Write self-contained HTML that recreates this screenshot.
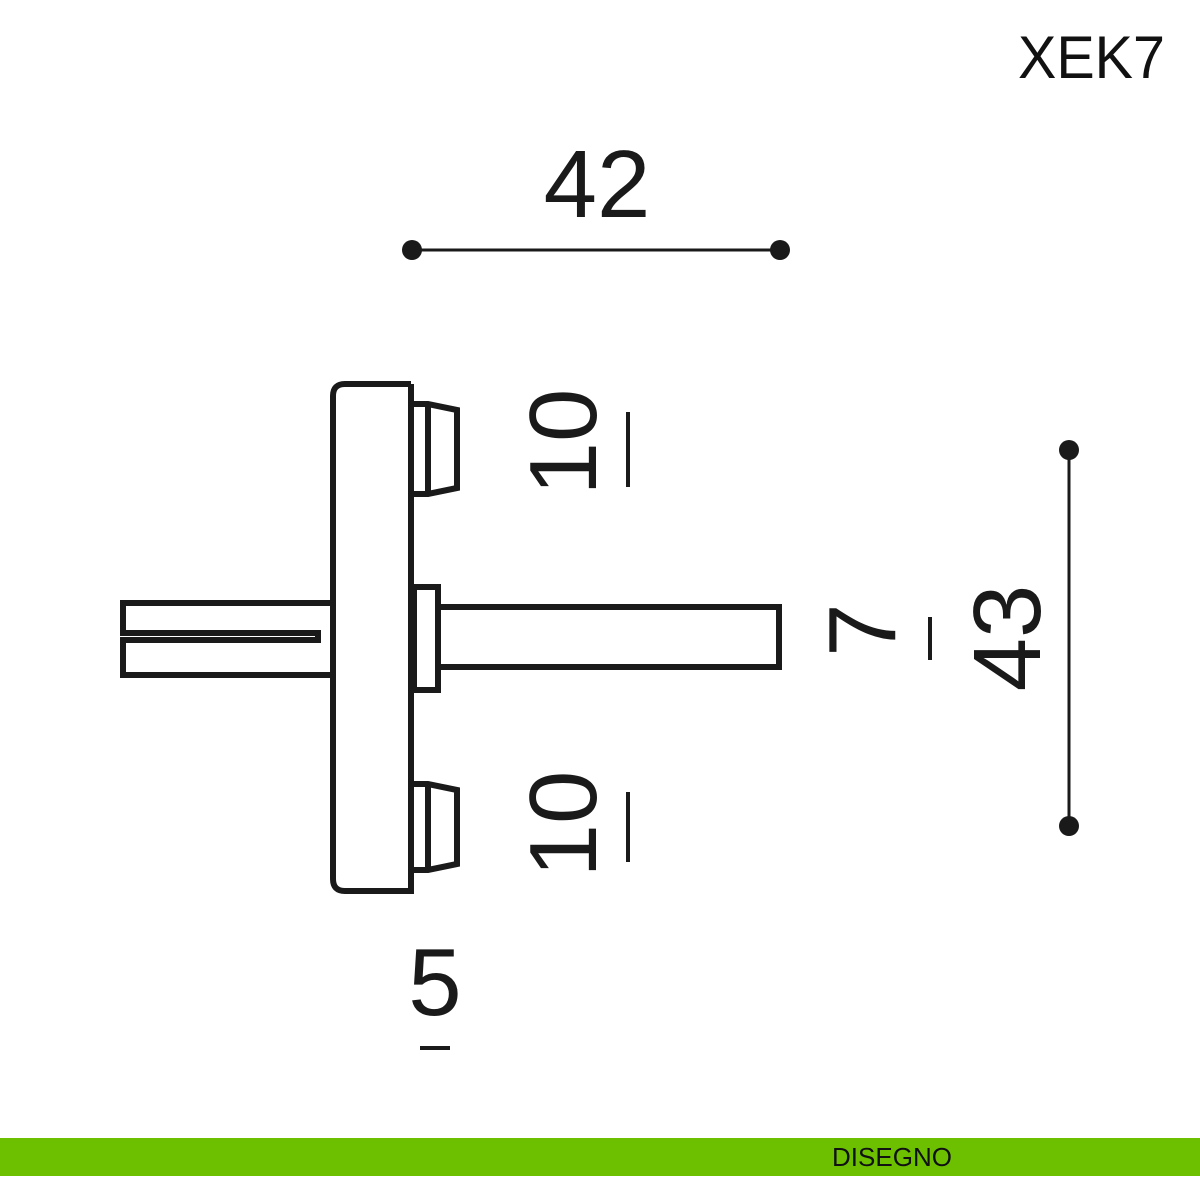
<!DOCTYPE html>
<html><head><style>html,body{margin:0;padding:0;background:#fff}svg{display:block}</style></head>
<body>
<svg width="1200" height="1200" viewBox="0 0 1200 1200" xmlns="http://www.w3.org/2000/svg" font-family="Liberation Sans, sans-serif">
<rect width="1200" height="1200" fill="#fff"/>
<text x="1165" y="78" font-size="60" text-anchor="end" fill="#111" textLength="147" lengthAdjust="spacingAndGlyphs">XEK7</text>
<text x="597" y="217" font-size="96" text-anchor="middle" fill="#1a1a1a">42</text>
<line x1="412" y1="250" x2="780" y2="250" stroke="#1a1a1a" stroke-width="3"/>
<circle cx="412" cy="250" r="10" fill="#1a1a1a"/><circle cx="780" cy="250" r="10" fill="#1a1a1a"/>
<line x1="1069" y1="450" x2="1069" y2="826" stroke="#1a1a1a" stroke-width="3"/>
<circle cx="1069" cy="450" r="10" fill="#1a1a1a"/><circle cx="1069" cy="826" r="10" fill="#1a1a1a"/>
<g fill="none" stroke="#1a1a1a" stroke-width="6">
<path d="M411 384 H345 Q333 384 333 396 V879 Q333 891 345 891 H411 V384"/>
<path d="M414 404 H428 L457 410 V488 L428 494 H414"/>
<line x1="428" y1="404" x2="428" y2="494"/>
<path d="M414 784 H428 L457 790 V864 L428 870 H414"/>
<line x1="428" y1="784" x2="428" y2="870"/>
<path d="M331 603 H123 V633 H318 V640 H123 V675 H331"/>
<rect x="414" y="587" width="24" height="103"/>
<rect x="438" y="607" width="341" height="60"/>
</g>
<g fill="#1a1a1a" font-size="96">
<text transform="translate(596,442) rotate(-90)" text-anchor="middle">10</text>
<text transform="translate(596,824) rotate(-90)" text-anchor="middle">10</text>
<text transform="translate(895,630) rotate(-90)" text-anchor="middle">7</text>
<text transform="translate(1040,638) rotate(-90)" text-anchor="middle">43</text>
<text x="435" y="1015" text-anchor="middle">5</text>
</g>
<g stroke="#1a1a1a" stroke-width="4">
<line x1="628" y1="412" x2="628" y2="487"/>
<line x1="628" y1="792" x2="628" y2="862"/>
<line x1="930" y1="617" x2="930" y2="660"/>
<line x1="420" y1="1048" x2="450" y2="1048"/>
</g>
<rect x="0" y="1138" width="1200" height="38" fill="#6cc000"/>
<text x="892" y="1166" font-size="26" text-anchor="middle" fill="#111">DISEGNO</text>
</svg>
</body></html>
